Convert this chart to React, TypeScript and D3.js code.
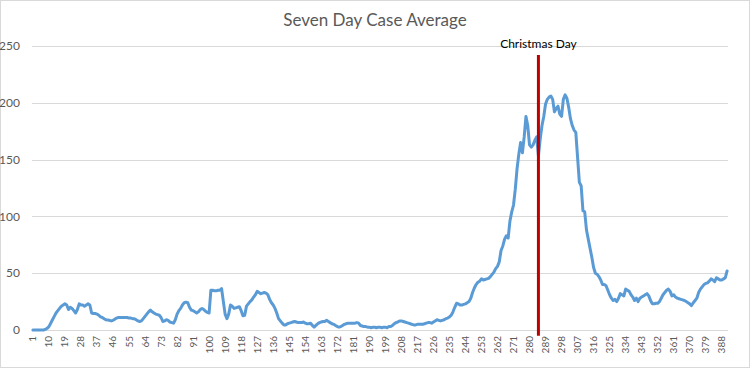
import React, { useEffect, useRef } from 'react';
import * as d3 from 'd3';

// seven day case average, days 1..391
const caseAverage: number[] = [
  0, 0, 0, 0, 0, 0, 0, 0.5, 1.5, 3,
  6, 9, 12, 15, 17, 19, 21, 22, 23, 22,
  18, 20, 19, 17, 15, 18, 23, 22, 22, 21,
  22, 23, 22, 15, 14.5, 14.5, 14, 13, 11.5, 11,
  10, 9, 8.8, 8.5, 8, 8.5, 9.5, 10.5, 11, 11,
  11, 11, 11, 11, 10.5, 10.5, 10, 10, 9, 8,
  7.5, 8, 10, 12, 14, 16, 17.5, 16, 15, 14,
  13.5, 13, 11, 7.5, 8, 9, 8.5, 7, 6.5, 6,
  9, 14, 17, 19, 22, 24, 24.5, 24, 20, 17.5,
  17, 16, 15, 16, 18, 19, 18, 16.5, 15.5, 15,
  35, 35, 34.5, 34.5, 35, 35, 36.5, 25, 14, 10,
  14, 22, 21, 19, 19.5, 20, 20.5, 17, 12.5, 13,
  21, 23, 25, 26.5, 29, 31, 34, 33, 32, 32.5,
  33, 32.5, 31, 27, 24, 22, 19, 15, 10, 8,
  6, 4.5, 4.5, 5.5, 6, 6.5, 7, 7.5, 7, 6.5,
  6.5, 6.5, 7, 6, 5.5, 5.5, 6, 4, 2.5, 4,
  5.5, 6.5, 7, 7.5, 7.5, 8.5, 7.5, 6.5, 5.5, 5,
  4, 3, 2.5, 3, 4, 5, 5.5, 6, 6, 6,
  6, 6, 6.5, 6, 4, 3.5, 3, 3, 2.5, 2.5,
  2, 2.5, 2.5, 2, 2.5, 2.5, 2, 2.5, 2.5, 2,
  3, 3, 4, 5.5, 6.5, 7, 8, 8, 7.5, 7,
  6.5, 6, 5.5, 5, 4.5, 4.5, 5, 5, 5, 5,
  5.5, 6, 6.5, 6.5, 6, 7, 8, 9, 8.5, 8,
  8.5, 9, 10, 10.5, 11.5, 13, 16, 20, 23.5, 23,
  22, 22, 22.5, 23, 24, 25, 28, 33, 37, 40,
  42, 43, 45, 44, 44.5, 45, 45.5, 47, 49, 51,
  54, 56, 60, 70, 74, 80, 83, 81, 96, 104,
  110, 124, 142, 155, 165, 156, 170, 188, 180, 163,
  161, 163, 167, 170, 153, 168, 180, 188, 199, 203,
  205, 206, 203, 192, 195, 197, 190, 188, 203, 207,
  204, 196, 186, 180, 176, 174, 152, 130, 127, 105,
  104, 88, 80, 72, 64, 55, 50, 49, 47, 44,
  40, 40, 39, 35, 31, 28, 26, 27, 25, 28,
  32, 31, 30, 36, 35, 34, 31, 29, 26, 28,
  25, 28, 29, 30, 31, 32, 30, 26, 23, 23,
  23.5, 23.5, 25, 28, 31, 33, 35, 36, 34, 30,
  31, 29, 28, 27.5, 27, 26.5, 26, 25, 24, 23,
  21.5, 24, 26, 28, 33, 36, 38, 40, 41, 41.5,
  43, 45, 44, 42.5, 46, 45, 44, 44, 45, 46,
  52,
];

const days: string[] = caseAverage.map((_, i) => String(i + 1));
const yTicks: number[] = [0, 50, 100, 150, 200, 250];
const christmasDay = '285';
const christmasExtent: [number, number] = [-5, 242];
const title = 'Seven Day Case Average';
const christmasLabel = 'Christmas Day';

const FONT = 'Lato, "Open Sans", sans-serif';

const App: React.FC = () => {
  const svgRef = useRef<SVGSVGElement>(null);

  useEffect(() => {
    if (!svgRef.current) return;
    document.body.style.margin = '0';

    const width = 750;
    const height = 368;
    const margin = { top: 46, right: 22, bottom: 38, left: 32 };
    const svg = d3.select(svgRef.current);
    svg.selectAll('*').remove();

    svg.attr('width', width).attr('height', height);

    // chart frame
    svg.append('rect')
      .attr('x', 0.5).attr('y', 0.5)
      .attr('width', width - 1).attr('height', height - 1)
      .attr('fill', '#fff')
      .attr('stroke', '#d9d9d9');

    const x = d3.scaleBand<string>()
      .domain(days)
      .range([margin.left, width - margin.right]);

    const y = d3.scaleLinear()
      .domain([0, 250])
      .range([height - margin.bottom, margin.top]);

    const cx = (d: string) => (x(d) ?? 0) + x.bandwidth() / 2;

    // gridlines
    svg.append('g')
      .selectAll('line')
      .data(yTicks)
      .join('line')
      .attr('x1', margin.left)
      .attr('x2', width - margin.right)
      .attr('y1', d => Math.round(y(d)) + 0.5)
      .attr('y2', d => Math.round(y(d)) + 0.5)
      .attr('stroke', '#d9d9d9')
      .attr('stroke-width', 1);

    // y labels
    svg.append('g')
      .selectAll('text')
      .data(yTicks)
      .join('text')
      .attr('x', 20)
      .attr('y', d => y(d))
      .attr('dy', '0.35em')
      .attr('text-anchor', 'end')
      .attr('font-family', FONT)
      .attr('font-size', 12)
      .attr('fill', '#595959')
      .text(d => d);

    // x labels, every 9th day
    svg.append('g')
      .selectAll('text')
      .data(days.filter((_, i) => i % 9 === 0))
      .join('text')
      .attr('transform', d => `translate(${cx(d)},${height - margin.bottom + 6}) rotate(-90)`)
      .attr('dy', '0.35em')
      .attr('text-anchor', 'end')
      .attr('font-family', FONT)
      .attr('font-size', 10)
      .attr('fill', '#595959')
      .text(d => d);

    // series line
    const line = d3.line<number>()
      .x((_, i) => cx(days[i]))
      .y(d => y(d));

    svg.append('path')
      .datum(caseAverage)
      .attr('fill', 'none')
      .attr('stroke', '#5b9bd5')
      .attr('stroke-width', 3)
      .attr('stroke-linejoin', 'round')
      .attr('stroke-linecap', 'round')
      .attr('d', line);

    // christmas marker
    svg.append('line')
      .attr('x1', cx(christmasDay))
      .attr('x2', cx(christmasDay))
      .attr('y1', y(christmasExtent[0]))
      .attr('y2', y(christmasExtent[1]))
      .attr('stroke', '#c00000')
      .attr('stroke-width', 3);

    svg.append('text')
      .attr('x', cx(christmasDay))
      .attr('y', 48)
      .attr('text-anchor', 'middle')
      .attr('font-family', FONT)
      .attr('font-size', 12)
      .attr('fill', '#000')
      .text(christmasLabel);

    // title
    svg.append('text')
      .attr('x', width / 2)
      .attr('y', 26)
      .attr('text-anchor', 'middle')
      .attr('font-family', FONT)
      .attr('font-size', 17)
      .attr('fill', '#595959')
      .text(title);
  }, []);

  return <svg ref={svgRef} style={{ display: 'block' }}></svg>;
};

export default App;
